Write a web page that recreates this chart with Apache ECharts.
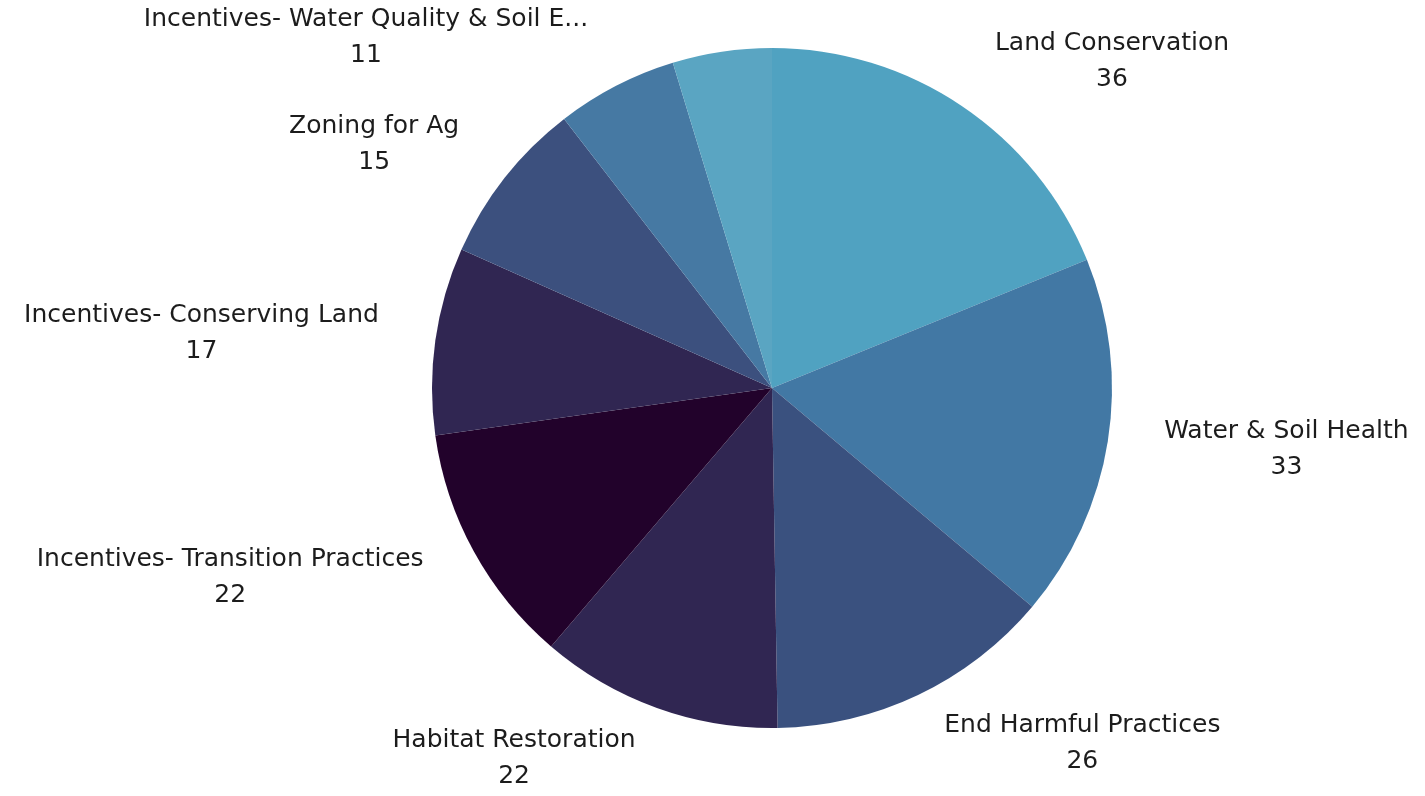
<!DOCTYPE html>
<html>
<head>
<meta charset="utf-8">
<script src="https://cdn.jsdelivr.net/npm/echarts@6/dist/echarts.min.js"></script>
<style>
html,body{margin:0;padding:0;background:#fff;}
#chart{width:1425px;height:796px;}
</style>
</head>
<body>
<div id="chart"></div>
<script>
const categories = [
  "Land Conservation",
  "Water & Soil Health",
  "End Harmful Practices",
  "Habitat Restoration",
  "Incentives- Transition Practices",
  "Incentives- Conserving Land",
  "Zoning for Ag",
  "Incentives- Water Quality & Soil E...",
  "Other"
];
const values = [36, 33, 26, 22, 22, 17, 15, 11, 9];
const hiddenLabels = ["Other"];
const colors = ["#50a2c1", "#4278a4", "#3a517f", "#302652", "#22022b", "#302652", "#3c507e", "#4679a3", "#5aa5c2"];

const data = categories.map((name, i) => {
  const item = { name: name, value: values[i], itemStyle: { color: colors[i] } };
  if (hiddenLabels.indexOf(name) >= 0) item.label = { show: false };
  return item;
});

const chart = echarts.init(document.getElementById('chart'));
chart.setOption({
  animation: false,
  series: [{
    type: 'pie',
    center: [772, 388],
    radius: 340,
    startAngle: 90,
    clockwise: true,
    silent: true,
    avoidLabelOverlap: true,
    itemStyle: { borderWidth: 0 },
    label: {
      show: true,
      position: 'outside',
      distanceToLabelLine: 3,
      formatter: '{n|{b}}\n{v|{c}}',
      rich: {
        n: { fontFamily: 'DejaVu Sans', fontSize: 25, lineHeight: 36, color: '#1c1c1c', align: 'center' },
        v: { fontFamily: 'DejaVu Sans', fontSize: 25, lineHeight: 36, color: '#1c1c1c', align: 'center' }
      }
    },
    labelLine: { show: false, length: 54, length2: 0 },
    data: data
  }]
});
</script>
</body>
</html>
